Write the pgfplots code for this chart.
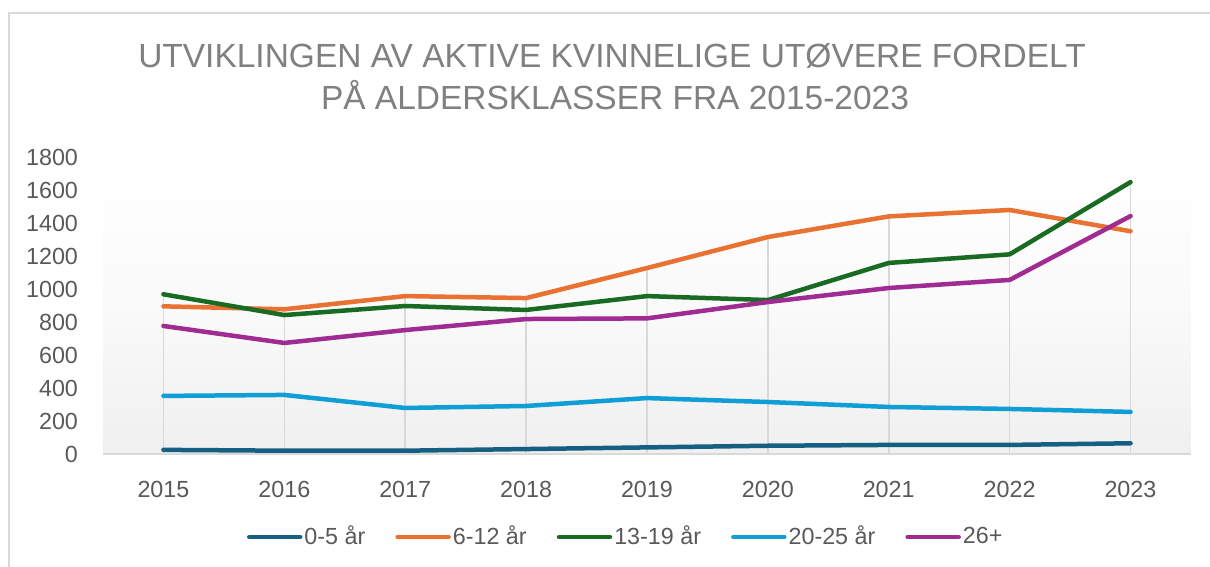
\documentclass[border=0pt]{standalone}
\usepackage{pgfplots}
\pgfplotsset{compat=1.18}
\usepackage{fontspec}
\setmainfont{Liberation Sans}
\definecolor{cA}{HTML}{156082}
\definecolor{cB}{HTML}{E97132}
\definecolor{cC}{HTML}{196B24}
\definecolor{cD}{HTML}{0F9ED5}
\definecolor{cE}{HTML}{A02B93}
\definecolor{txt}{HTML}{595959}
\definecolor{ttl}{HTML}{808080}
\definecolor{grd}{HTML}{D9D9D9}
\begin{document}
\begin{tikzpicture}
\path[use as bounding box] (0,0) rectangle (605bp,283.5bp);
\draw[grd, line width=1.2bp] (4.5bp,0) -- (4.5bp,277bp) -- (605bp,277bp);
\node[anchor=base, text=ttl, font=\fontsize{16.8}{20}\selectfont] at (306bp,249.5bp) {UTVIKLINGEN AV AKTIVE KVINNELIGE UTØVERE FORDELT};
\node[anchor=base, text=ttl, font=\fontsize{16.8}{20}\selectfont] at (307.5bp,228.5bp) {PÅ ALDERSKLASSER FRA 2015-2023};
\begin{axis}[
  at={(51.5bp,56.5bp)}, anchor=south west,
  scale only axis, width=544bp, height=148.5bp,
  xmin=2014.5, xmax=2023.5, ymin=0, ymax=1800,
  axis x line=bottom, axis y line=left,
  x axis line style={grd, line width=1bp, -},
  y axis line style={draw=none},
  xtick={2015,...,2023}, ytick={0,200,...,1800},
  major tick length=0pt,
  axis background/.style={shade, top color=white, bottom color=black!6, middle color=black!2},
  /pgf/number format/assume math mode=true,
  /pgf/number format/1000 sep={},
  tick label style={text=txt, font=\fontsize{11.7}{14}\selectfont},
  xticklabel style={yshift=-10bp},
  yticklabel style={xshift=-9bp},
  legend style={at={(0.48,-0.2795)}, anchor=center, draw=none, fill=none,
    legend columns=5, column sep=0.5bp, font=\fontsize{11.7}{14}\selectfont, text=txt,
    nodes={inner sep=0.5bp}},
  legend image code/.code={\draw[#1, line width=2.25bp, line cap=round] (1bp,0) -- (26.5bp,0);},
  every axis plot/.append style={line width=2.25bp, line cap=round, line join=round, mark=none},
  clip=false,
]
\addplot[grd, line width=0.8bp, ycomb, forget plot] coordinates {(2015,968) (2016,877) (2017,957) (2018,945) (2019,1127) (2020,1315) (2021,1440) (2022,1479) (2023,1648)};
\addplot[cA] coordinates {(2015,25) (2016,20) (2017,20) (2018,30) (2019,40) (2020,50) (2021,55) (2022,55) (2023,65)};
\addlegendentry{0-5 år\rule{14bp}{0pt}}
\addplot[cB] coordinates {(2015,895) (2016,877) (2017,957) (2018,945) (2019,1127) (2020,1315) (2021,1440) (2022,1479) (2023,1350)};
\addlegendentry{6-12 år\rule{14bp}{0pt}}
\addplot[cC] coordinates {(2015,968) (2016,842) (2017,897) (2018,873) (2019,957) (2020,933) (2021,1158) (2022,1210) (2023,1648)};
\addlegendentry{13-19 år\rule{14bp}{0pt}}
\addplot[cD] coordinates {(2015,352) (2016,358) (2017,279) (2018,291) (2019,339) (2020,315) (2021,285) (2022,273) (2023,255)};
\addlegendentry{20-25 år\rule{14bp}{0pt}}
\addplot[cE] coordinates {(2015,776) (2016,673) (2017,751) (2018,818) (2019,822) (2020,921) (2021,1006) (2022,1055) (2023,1442)};
\addlegendentry{26+}
\end{axis}
\end{tikzpicture}
\end{document}
